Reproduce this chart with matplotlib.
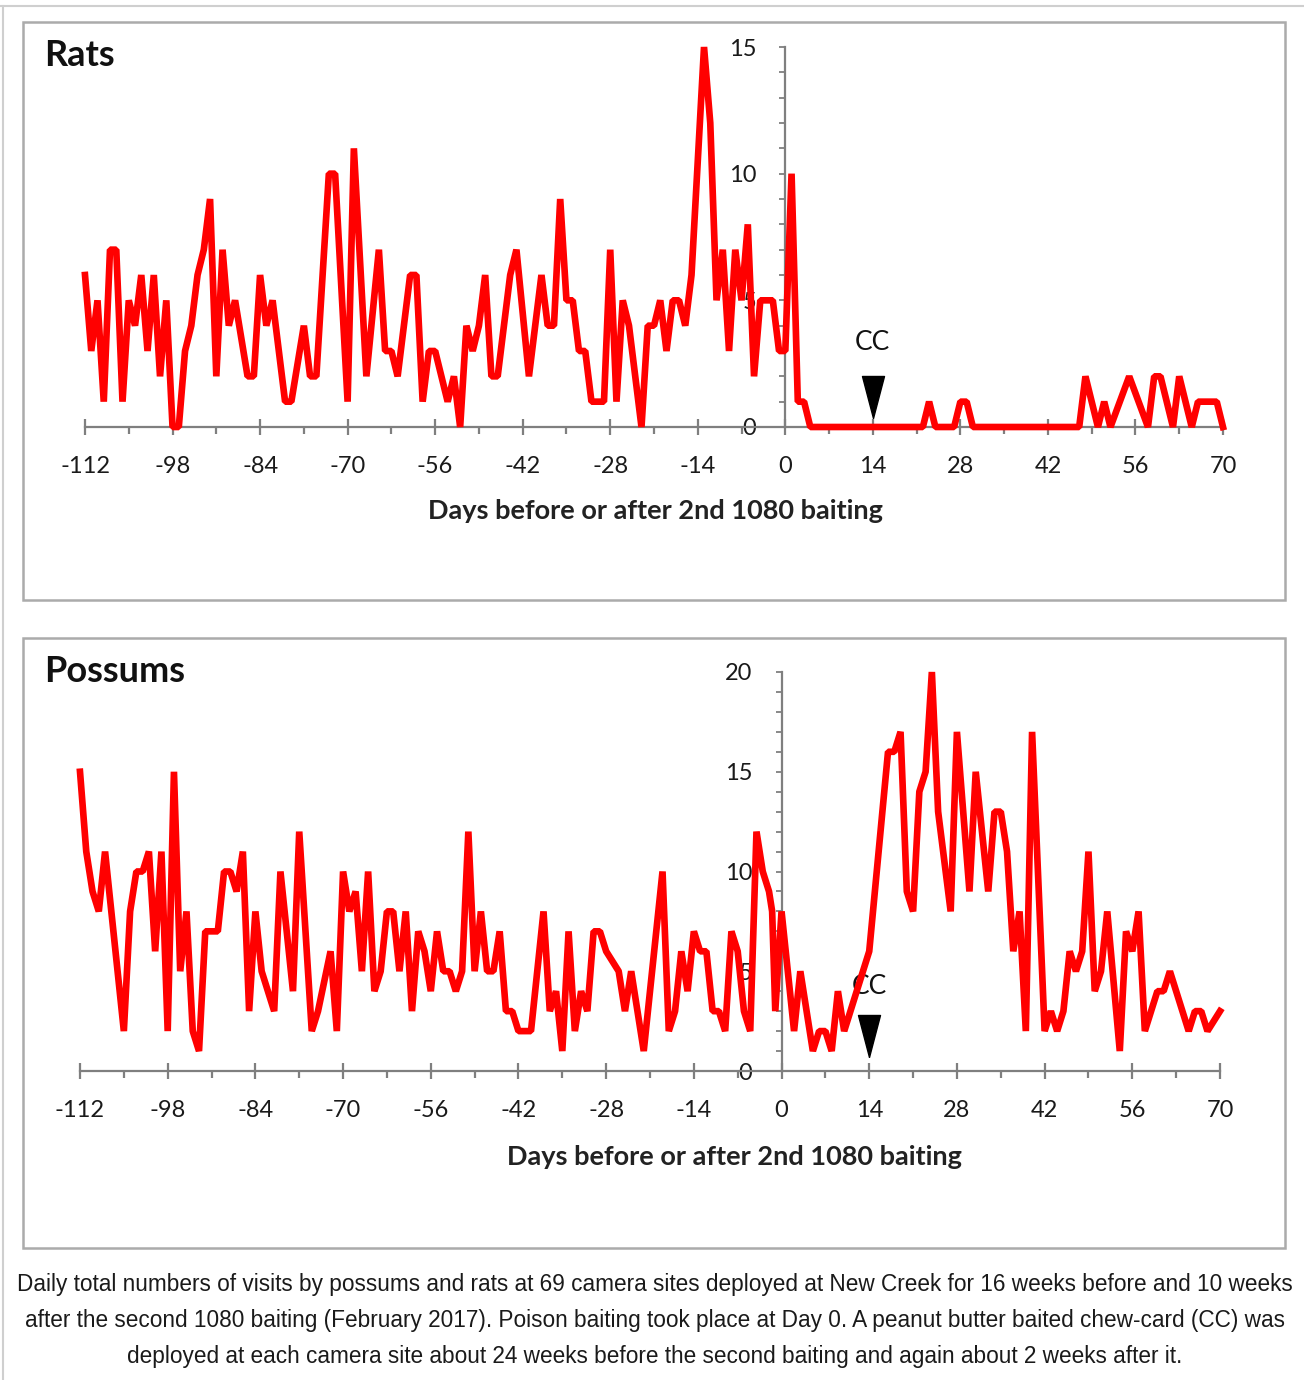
import matplotlib
matplotlib.use('Agg')
import matplotlib.pyplot as plt
from matplotlib.ticker import MultipleLocator
from matplotlib.patches import Rectangle
from matplotlib.lines import Line2D

plt.rcParams['axes.unicode_minus'] = False

# --- data (vertices of the daily series) ---
rat_days = [-112, -111, -110, -109, -108, -107, -106, -105, -104, -103, -102, -101, -100, -99,
            -98, -97, -96, -95, -94, -93, -92, -91, -90, -89, -88, -86, -85, -84, -83, -82,
            -80, -79, -77, -76, -75, -73, -72, -70, -69, -67, -65, -64, -63, -62, -60, -59,
            -58, -57, -56, -55, -54, -53, -52, -51, -50, -49, -48, -47, -46, -45, -44, -43,
            -41, -39, -38, -37, -36, -35, -34, -33, -32, -31, -29, -28, -27, -26, -25, -23,
            -22, -21, -20, -19, -18, -17, -16, -15, -13, -12, -11, -10, -9, -8, -7, -6,
            -5, -4, -3, -2, -1, 0, 1, 2, 3, 4, 22, 23, 24, 27, 28, 29, 30, 47, 48, 50,
            51, 52, 55, 58, 59, 60, 62, 63, 65, 66, 69, 70]
rat_visits = [6, 3, 5, 1, 7, 7, 1, 5, 4, 6, 3, 6, 2, 5,
              0, 0, 3, 4, 6, 7, 9, 2, 7, 4, 5, 2, 2, 6, 4, 5,
              1, 1, 4, 2, 2, 10, 10, 1, 11, 2, 7, 3, 3, 2, 6, 6,
              1, 3, 3, 2, 1, 2, 0, 4, 3, 4, 6, 2, 2, 4, 6, 7,
              2, 6, 4, 4, 9, 5, 5, 3, 3, 1, 1, 7, 1, 5, 4, 0,
              4, 4, 5, 3, 5, 5, 4, 6, 15, 12, 5, 7, 3, 7, 5, 8,
              2, 5, 5, 5, 3, 3, 10, 1, 1, 0, 0, 1, 0, 0, 1, 1, 0, 0, 2, 0,
              1, 0, 2, 0, 2, 2, 0, 2, 0, 1, 1, 0]

possum_days = [-112, -111, -110, -109, -108, -105, -104, -103, -102, -101, -100, -99, -98,
               -97, -96, -95, -94, -93, -92, -90, -89, -88, -87, -86, -85, -84, -83, -82,
               -81, -80, -78, -77, -75, -74, -72, -71, -70, -69, -68, -67, -66, -65, -64,
               -63, -62, -61, -60, -59, -58, -57, -56, -55, -54, -53, -52, -51, -50, -49,
               -48, -47, -46, -45, -44, -43, -42, -40, -38, -37, -36, -35, -34, -33, -32,
               -31, -30, -29, -28, -26, -25, -24, -22, -19, -18, -17, -16, -15, -14, -13,
               -12, -11, -10, -9, -8, -7, -6, -5, -4, -3, -2, -1.5, -1, 0, 2, 3, 5, 6, 7,
               8, 9, 10, 12, 14, 17, 18, 19, 20, 21, 22, 23, 24, 25, 27, 28, 30, 31, 33,
               34, 35, 36, 37, 38, 39, 40, 42, 43, 44, 45, 46, 47, 48, 49, 50, 51, 52, 54,
               55, 56, 57, 58, 60, 61, 62, 63, 65, 66, 67, 68, 70]
possum_visits = [15, 11, 9, 8, 11, 2, 8, 10, 10, 11, 6, 11, 2,
                 15, 5, 8, 2, 1, 7, 7, 10, 10, 9, 11, 3, 8, 5, 4,
                 3, 10, 4, 12, 2, 3, 6, 2, 10, 8, 9, 5, 10, 4, 5,
                 8, 8, 5, 8, 3, 7, 6, 4, 7, 5, 5, 4, 5, 12, 5,
                 8, 5, 5, 7, 3, 3, 2, 2, 8, 3, 4, 1, 7, 2, 4,
                 3, 7, 7, 6, 5, 3, 5, 1, 10, 2, 3, 6, 4, 7, 6,
                 6, 3, 3, 2, 7, 6, 3, 2, 12, 10, 9, 8, 3, 8, 2, 5, 1, 2, 2,
                 1, 4, 2, 4, 6, 16, 16, 17, 9, 8, 14, 15, 20, 13, 8, 17, 9, 15, 9,
                 13, 13, 11, 6, 8, 2, 17, 2, 3, 2, 3, 6, 5, 6, 11, 4, 5, 8, 1,
                 7, 6, 8, 2, 4, 4, 5, 4, 2, 3, 3, 2, 3]

cc_day = 14
x_ticks_step = 14
caption = ["Daily total numbers of visits by possums and rats at 69 camera sites deployed at New Creek for 16 weeks before and 10 weeks",
           "after the second 1080 baiting (February 2017). Poison baiting took place at Day 0. A peanut butter baited chew-card (CC) was",
           "deployed at each camera site about 24 weeks before the second baiting and again about 2 weeks after it."]

W, H = 1304, 1380
grey = '#7f7f7f'
chart_font = 'Lato'
fig = plt.figure(figsize=(W / 100, H / 100), dpi=100)


def px_box(l, t, r, b):
    return [l / W, 1 - b / H, (r - l) / W, (b - t) / H]


# page frame and panel boxes
fig.add_artist(Line2D([0, 1], [1 - 6 / H, 1 - 6 / H], color='#cfcfcf', lw=1.5))
fig.add_artist(Line2D([3 / W, 3 / W], [0, 1 - 6 / H], color='#cfcfcf', lw=1.5))
for (l, t, r, b) in [(23, 22, 1285, 600), (23, 638, 1285, 1248)]:
    fig.add_artist(Rectangle((l / W, 1 - b / H), (r - l) / W, (b - t) / H,
                             transform=fig.transFigure, fill=False,
                             edgecolor='#ababab', lw=1.8))


def draw_panel(ax, days, visits, ymax, title, title_xy, xlabel_xy, tip, top):
    ax.patch.set_visible(False)
    ax.plot(days, visits, color='#ff0000', lw=4.8, clip_on=False, zorder=4,
            solid_joinstyle='bevel')
    ax.set_xlim(-112, 70)
    ax.set_ylim(0, ymax)
    for s in ['top', 'right']:
        ax.spines[s].set_visible(False)
    ax.spines['left'].set_position(('data', 0))
    for s in ['left', 'bottom']:
        ax.spines[s].set_color(grey)
        ax.spines[s].set_linewidth(1.6)
    ax.xaxis.set_major_locator(MultipleLocator(x_ticks_step))
    ax.xaxis.set_minor_locator(MultipleLocator(x_ticks_step / 2))
    ax.yaxis.set_major_locator(MultipleLocator(5))
    ax.yaxis.set_minor_locator(MultipleLocator(1))
    ax.tick_params(axis='x', which='major', direction='inout', length=12, width=1.6,
                   color=grey, pad=15, labelsize=17, labelcolor='#1a1a1a')
    ax.tick_params(axis='x', which='minor', direction='out', length=5, width=1.6, color=grey)
    ax.tick_params(axis='y', which='both', direction='out', length=4, width=1.3,
                   color=grey, pad=17, labelsize=17, labelcolor='#1a1a1a')
    for lab in ax.get_xticklabels() + ax.get_yticklabels():
        lab.set_family(chart_font)

    # chew-card marker: downward triangle above day 14
    tri = [(0, tip), (-11, top), (11, top), (0, tip)]
    ax.plot([cc_day], [0], marker=tri, markersize=2 * top * 0.72, color='black',
            clip_on=False, zorder=5, linestyle='none')
    ax.annotate('CC', (cc_day, 0), xytext=(0, 84 * 0.72), textcoords='offset points',
                ha='center', va='center', fontsize=19, family=chart_font, color='#111111')

    fig.text(title_xy[0] / W, 1 - title_xy[1] / H, title, fontsize=26, weight='bold',
             family=chart_font, ha='left', va='center', color='#111111')
    fig.text(xlabel_xy[0] / W, 1 - xlabel_xy[1] / H, 'Days before or after 2nd 1080 baiting',
             fontsize=19.5, weight='bold', family=chart_font, ha='center', va='center',
             color='#222222')


ax_r = fig.add_axes(px_box(85, 47, 1223, 427))
draw_panel(ax_r, rat_days, rat_visits, 15, 'Rats', (44, 55), (655, 511), 9, 51)

ax_p = fig.add_axes(px_box(80, 672, 1220, 1071))
draw_panel(ax_p, possum_days, possum_visits, 20, 'Possums', (44, 671), (734, 1157), 14, 56)

for i, line in enumerate(caption):
    fig.text(655 / W, 1 - (1284 + 36 * i) / H, line, fontsize=16.3, family='Liberation Sans',
             ha='center', va='center', color='#1a1a1a')

fig.savefig('out.png', dpi=100)
